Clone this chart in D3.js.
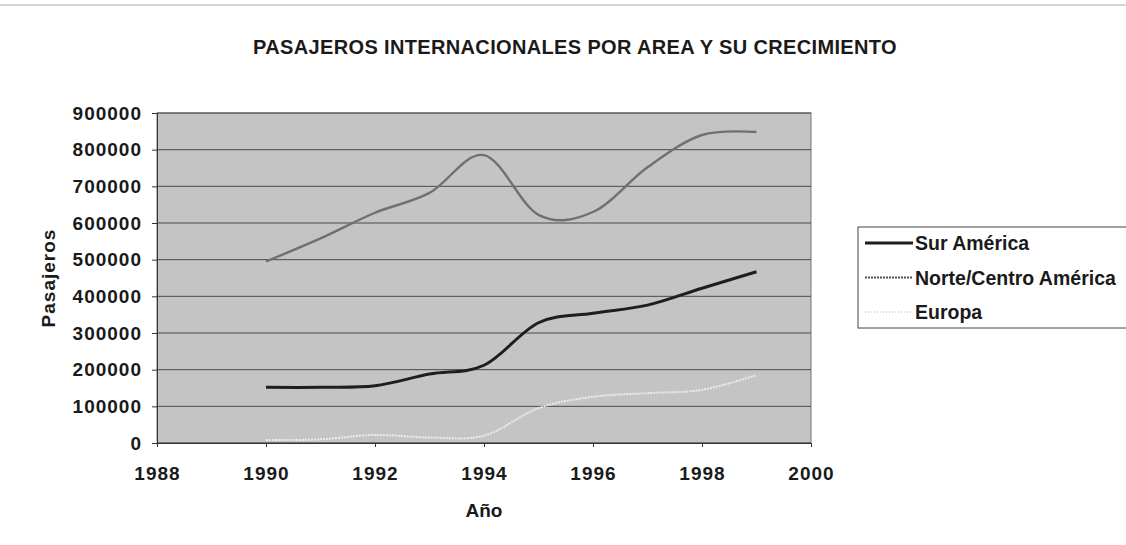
<!DOCTYPE html>
<html>
<head>
<meta charset="utf-8">
<script src="https://cdn.jsdelivr.net/npm/d3@7"></script>
<style>
  body { margin: 0; background: #fff; }
  text { font-family: "Liberation Sans", Arial, sans-serif; font-weight: bold; fill: #1a1a1a; }
</style>
</head>
<body>
<div id="chart"></div>
<script>
const years = [1990, 1991, 1992, 1993, 1994, 1995, 1996, 1997, 1998, 1999];
const surAmerica = [152000, 152000, 156000, 188000, 212000, 328000, 354000, 376000, 422000, 467000];
const norteCentro = [495000, 558000, 628000, 682000, 785000, 622000, 630000, 752000, 840000, 848000];
const europa = [8000, 10000, 22000, 15000, 20000, 95000, 126000, 136000, 145000, 185000];
const xTicks = [1988, 1990, 1992, 1994, 1996, 1998, 2000];
const yTicks = [0, 100000, 200000, 300000, 400000, 500000, 600000, 700000, 800000, 900000];

const series = [
    { name: "Sur América", values: surAmerica, color: "#1e1e1e", width: 3, dash: null },
    { name: "Norte/Centro América", values: norteCentro, color: "#707070", width: 2.4, dash: null },
    { name: "Europa", values: europa, color: "#ececec", width: 2, dash: "2,1" }
];

const W = 1126, H = 545;
const svg = d3.select("#chart")
    .append("svg")
    .attr("width", W)
    .attr("height", H);

// scan edge
svg.append("line")
    .attr("x1", 0).attr("x2", W).attr("y1", 5).attr("y2", 5)
    .attr("stroke", "#aaa").attr("stroke-width", 1);

const plotLeft = 157, plotRight = 811, plotTop = 113, plotBottom = 443;

const x = d3.scaleLinear().domain([1988, 2000]).range([plotLeft, plotRight]);
const y = d3.scaleLinear().domain([0, 900000]).range([plotBottom, plotTop]);

// plot area
svg.append("rect")
    .attr("x", plotLeft).attr("y", plotTop)
    .attr("width", plotRight - plotLeft).attr("height", plotBottom - plotTop)
    .attr("fill", "#c4c4c4")
    .attr("stroke", "#777").attr("stroke-width", 1);

// gridlines
svg.append("g")
    .selectAll("line")
    .data(yTicks)
    .enter()
    .append("line")
    .attr("x1", plotLeft).attr("x2", plotRight)
    .attr("y1", d => y(d)).attr("y2", d => y(d))
    .attr("stroke", "#4a4a4a").attr("stroke-width", 1);

// y axis
const yAxis = svg.append("g")
    .attr("transform", `translate(${plotLeft},0)`)
    .call(d3.axisLeft(y).tickValues(yTicks).tickSize(5).tickPadding(10).tickFormat(d3.format("d")));
yAxis.selectAll("text").style("font-size", "19px").style("letter-spacing", "1px").attr("fill", "#1a1a1a");
yAxis.selectAll("line,path").attr("stroke", "#333");

// x axis
const xAxis = svg.append("g")
    .attr("transform", `translate(0,${plotBottom})`)
    .call(d3.axisBottom(x).tickValues(xTicks).tickSize(4).tickPadding(20).tickFormat(d3.format("d")));
xAxis.selectAll("text").style("font-size", "19px").style("letter-spacing", "1px").attr("fill", "#1a1a1a");
xAxis.selectAll("line,path").attr("stroke", "#333");

// lines
const line = d3.line()
    .x((d, i) => x(years[i]))
    .y(d => y(d))
    .curve(d3.curveCardinal.tension(0));

svg.selectAll(".serie")
    .data(series.slice().reverse())
    .enter()
    .append("path")
    .attr("class", "serie")
    .attr("fill", "none")
    .attr("stroke", d => d.color)
    .attr("stroke-width", d => d.width)
    .attr("stroke-dasharray", d => d.dash)
    .attr("d", d => line(d.values));

// titles
svg.append("text")
    .attr("x", 575).attr("y", 54)
    .attr("text-anchor", "middle")
    .style("font-size", "20px")
    .style("letter-spacing", "0.35px")
    .text("PASAJEROS INTERNACIONALES POR AREA Y SU CRECIMIENTO");

svg.append("text")
    .attr("x", (plotLeft + plotRight) / 2).attr("y", 517)
    .attr("text-anchor", "middle")
    .style("font-size", "19px")
    .text("Año");

svg.append("text")
    .attr("transform", "translate(55,278) rotate(-90)")
    .attr("text-anchor", "middle")
    .style("font-size", "19px")
    .style("letter-spacing", "1px")
    .text("Pasajeros");

// legend
const legend = svg.append("g").attr("transform", "translate(858,227)");
legend.append("rect")
    .attr("width", 300).attr("height", 101)
    .attr("fill", "#fff").attr("stroke", "#444").attr("stroke-width", 1);

const legendSamples = [
    { color: "#1e1e1e", width: 3, dash: null },
    { color: "#555", width: 2, dash: "2,1" },
    { color: "#aaa", width: 1, dash: "1,2" }
];

const row = legend.selectAll(".row")
    .data(series)
    .enter()
    .append("g")
    .attr("class", "row")
    .attr("transform", (d, i) => `translate(0,${16 + i * 34.5})`);

row.append("line")
    .attr("x1", 7).attr("x2", 55)
    .attr("stroke", (d, i) => legendSamples[i].color)
    .attr("stroke-width", (d, i) => legendSamples[i].width)
    .attr("stroke-dasharray", (d, i) => legendSamples[i].dash);

row.append("text")
    .attr("x", 57).attr("dy", "0.36em")
    .style("font-size", "19.5px")
    .text(d => d.name);
</script>
</body>
</html>
